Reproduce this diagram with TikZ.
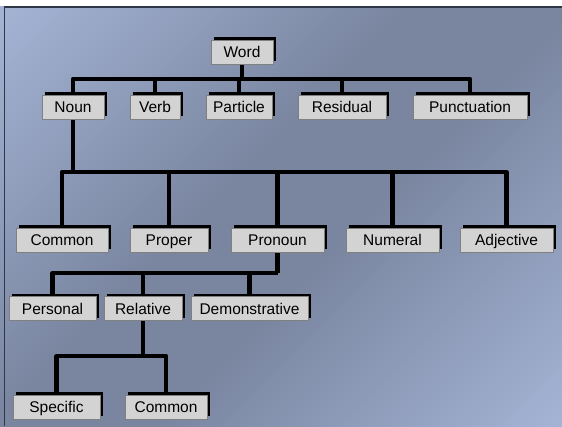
\documentclass[tikz,border=0pt]{standalone}
\usepackage{fontspec}
\setmainfont{Liberation Sans}
\usetikzlibrary{shadows}
\definecolor{bgLight}{RGB}{180,196,232}
\definecolor{bgDark}{RGB}{122,134,160}
\definecolor{frameDark}{RGB}{48,56,72}
\definecolor{boxFill}{RGB}{211,211,211}
\definecolor{boxEdge}{RGB}{128,128,128}
% light - dark - light ramp across the sheet
\pgfdeclareverticalshading{sheetramp}{100bp}{color(0bp)=(bgLight); color(4bp)=(bgLight);
  color(44bp)=(bgDark); color(56bp)=(bgDark); color(96bp)=(bgLight); color(100bp)=(bgLight)}
\pgfdeclarelayer{backdrop}
\pgfdeclarelayer{links}
\pgfsetlayers{backdrop,links,main}
\begin{document}
\begin{tikzpicture}[x=1pt,y=-1pt,
  catbox/.style={draw=boxEdge, line width=0.8pt, fill=boxFill,
    minimum height=24pt, inner sep=0pt, text height=11pt, text depth=0pt,
    font=\fontsize{15.5}{18}\selectfont,
    general shadow={fill=black, shadow xshift=2.6pt, shadow yshift=2.6pt}},
  conn/.style={line width=4.2pt, black, line join=round}]
\useasboundingbox (0,0) rectangle (562,426);

% backdrop
\begin{pgfonlayer}{backdrop}
\fill[white] (0,0) rectangle (562,426);
\shade[shading=sheetramp, shading angle=45] (0,6) rectangle (562,426);
\draw[frameDark, line width=1.5pt] (4.5,426) -- (4.5,7) -- (562,7);
\end{pgfonlayer}

% categories
\node[catbox, minimum width=62pt]  (word)     at (242,52)    {Word};
\node[catbox, minimum width=62pt]  (noun)     at (73,107)    {Noun};
\node[catbox, minimum width=50pt]  (verb)     at (155,107)   {Verb};
\node[catbox, minimum width=66pt]  (particle) at (239,107)   {Particle};
\node[catbox, minimum width=88pt]  (residual) at (342,107)   {Residual};
\node[catbox, minimum width=114pt] (punct)    at (470,107)   {Punctuation};
\node[catbox, minimum width=92pt]  (common)   at (62,240)    {Common};
\node[catbox, minimum width=78pt]  (proper)   at (169,240)   {Proper};
\node[catbox, minimum width=93pt]  (pronoun)  at (277.5,240) {Pronoun};
\node[catbox, minimum width=93pt]  (numeral)  at (392.5,240) {Numeral};
\node[catbox, minimum width=93pt]  (adject)   at (506.5,240) {Adjective};
\node[catbox, minimum width=87pt]  (personal) at (52.5,308.5) {Personal};
\node[catbox, minimum width=78pt]  (relative) at (143,308.5) {Relative};
\node[catbox, minimum width=117pt] (demonstr) at (249.5,308.5) {Demonstrative};
\node[catbox, minimum width=87pt]  (specific) at (56.5,407)  {Specific};
\node[catbox, minimum width=82pt]  (commonb)  at (166,407)   {Common};

% tree connectors, drawn beneath the boxes
\coordinate (busA) at (0,79);
\coordinate (busB) at (0,172);
\coordinate (busC) at (0,273);
\coordinate (busD) at (0,356);
\begin{pgfonlayer}{links}
% Word
\draw[conn] (word.south) -- (word.south |- busA);
\draw[conn] (noun.north) |- (punct.north |- busA) -- (punct.north);
\draw[conn] (verb.north) -- (verb.north |- busA);
\draw[conn] (particle.north) -- (particle.north |- busA);
\draw[conn] (residual.north) -- (residual.north |- busA);
% Noun
\draw[conn] (noun.south) -- (noun.south |- busB);
\draw[conn] (common.north) |- (adject.north |- busB) -- (adject.north);
\draw[conn] (proper.north) -- (proper.north |- busB);
\draw[conn] (pronoun.north) -- (pronoun.north |- busB);
\draw[conn] (numeral.north) -- (numeral.north |- busB);
% Pronoun
\draw[conn] (pronoun.south) -- (pronoun.south |- busC);
\draw[conn] (personal.north) |- (pronoun.south |- busC);
\draw[conn] (relative.north) -- (relative.north |- busC);
\draw[conn] (demonstr.north) -- (demonstr.north |- busC);
% Relative
\draw[conn] (relative.south) -- (relative.south |- busD);
\draw[conn] (specific.north) |- (commonb.north |- busD) -- (commonb.north);
\end{pgfonlayer}
\end{tikzpicture}
\end{document}
